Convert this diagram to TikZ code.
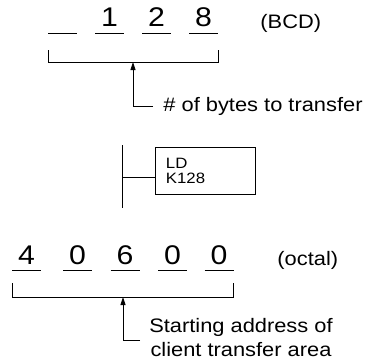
\documentclass[tikz,border=0pt]{standalone}
\usepackage{fontspec}
\setmainfont{Liberation Sans}[FakeStretch=1.12]
\usetikzlibrary{positioning,arrows.meta}
\begin{document}
\begin{tikzpicture}[x=1pt,y=-1pt,line width=0.9pt,
    digit/.style={font=\fontsize{27}{27}\selectfont,inner sep=0pt,anchor=base},
    note/.style={font=\fontsize{19.5}{24}\selectfont,inner sep=0pt},
    ldbox/.style={draw,rectangle,minimum width=100pt,minimum height=47pt,inner sep=0pt},
    ldtext/.style={font=\fontsize{15}{15.5}\selectfont,align=left,inner sep=0pt,anchor=base west},
    pointer/.style={-{Triangle[length=8pt,width=5pt]}}]
  \useasboundingbox (0,0) rectangle (369,360);
  % value in BCD
  \foreach \x/\d [count=\i] in {62.5/,109.5/1,156.5/2,203.5/8} {
    \node[digit] (b\i) at (\x,26.5) {\d};
    \draw (\x-14.5,33.3) -- (\x+14.5,33.3);
  }
  \node[note,anchor=base west] (bcd) at (260,28) {(BCD)};
  \draw (48,50) -- (48,62) -- (218,62) -- (218,50);
  \coordinate (bbrace) at (133,62);
  \coordinate (bcorner) at (133,106);
  \node[note,anchor=base west] (bytes) at (163,111.5) {\# of bytes to transfer};
  \draw[pointer] (153,106) -- (bcorner) -- (bbrace);
  % ladder rung
  \coordinate (railtop) at (122,145);
  \coordinate (railbot) at (122,208);
  \coordinate (rung) at (122,177.3);
  \draw (railtop) -- (railbot);
  \node[ldbox] (ld) at (205,170.6) {};
  \node[ldtext] (ldop) at (165.5,183.5) {LD\\K128};
  \draw (rung) -- (rung -| ld.west);
  % value in octal
  \foreach \x/\d [count=\i] in {26.5/4,77.5/0,125/6,172.5/0,219/0} {
    \node[digit] (o\i) at (\x,264) {\d};
    \draw (\x-14.5,270.7) -- (\x+14.5,270.7);
  }
  \node[note,anchor=base west] (octal) at (277,265) {(octal)};
  \draw (12,283) -- (12,297) -- (233,297) -- (233,283);
  \coordinate (obrace) at (123,297);
  \coordinate (ocorner) at (123,340);
  \node[note,align=center,anchor=base] (start) at (241,356.7)
    {Starting address of\\client transfer area};
  \draw[pointer] (140,340) -- (ocorner) -- (obrace);
\end{tikzpicture}
\end{document}
